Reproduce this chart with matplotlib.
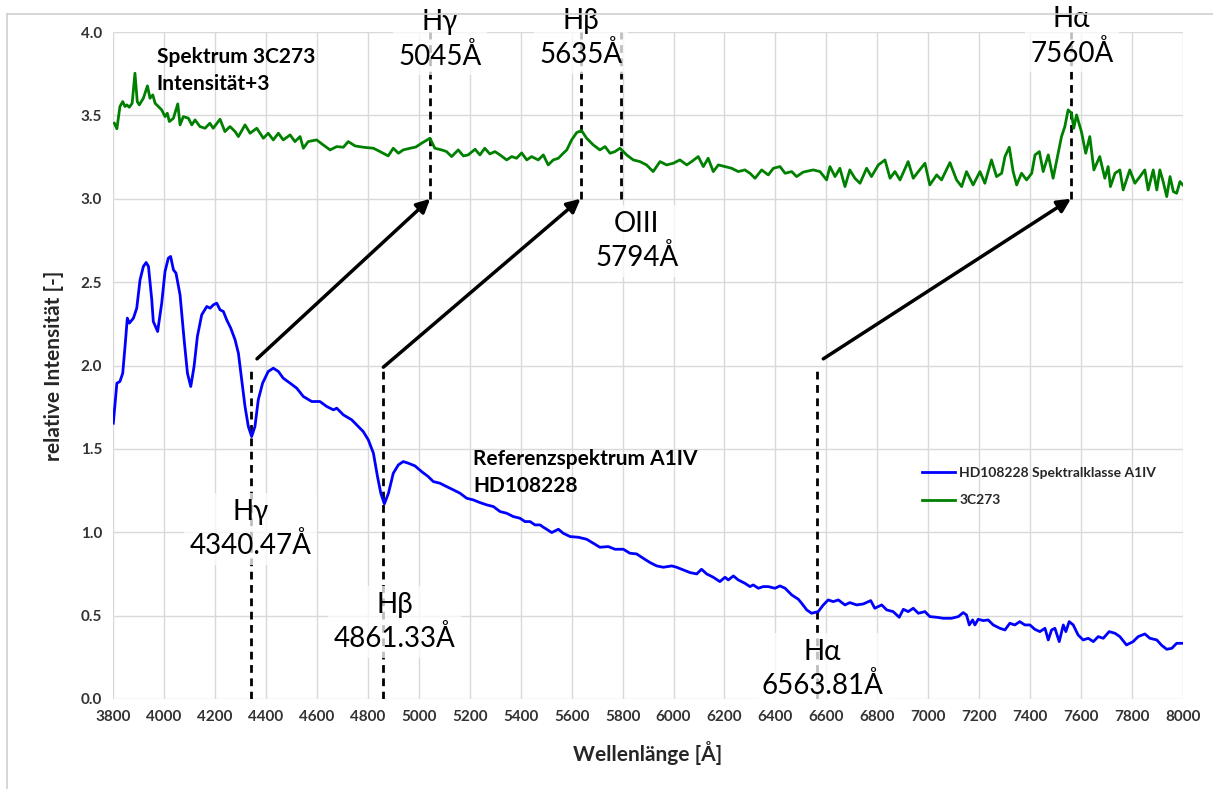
import matplotlib
matplotlib.use("Agg")
import matplotlib.pyplot as plt
from matplotlib.lines import Line2D

plt.rcParams['font.family'] = ['Lato', 'Noto Sans', 'DejaVu Sans']

# Referenzspektrum HD108228 (A1IV)
wl_ref = [3801, 3815, 3827, 3838, 3847, 3856, 3864, 3880, 3893, 3906, 3919, 3930, 3939,
          3952, 3958, 3975, 3991, 4004, 4017, 4026, 4037, 4047, 4063, 4079, 4092, 4105,
          4118, 4131, 4148, 4168, 4181, 4194, 4207, 4220, 4233, 4246, 4262, 4279, 4292,
          4305, 4318, 4331, 4344, 4357, 4370, 4387, 4409, 4429, 4449, 4468, 4495, 4521,
          4547, 4580, 4612, 4639, 4665, 4678, 4704, 4737, 4763, 4782, 4802, 4822, 4838,
          4851, 4865, 4881, 4900, 4920, 4939, 4959, 4985, 5011, 5037, 5057, 5083, 5109,
          5136, 5162, 5188, 5214, 5240, 5267, 5293, 5319, 5345, 5371, 5397, 5417, 5437,
          5456, 5476, 5489, 5502, 5522, 5548, 5567, 5594, 5626, 5659, 5685, 5711, 5744,
          5770, 5803, 5829, 5855, 5881, 5908, 5934, 5960, 5993, 6012, 6038, 6065, 6091,
          6110, 6130, 6156, 6182, 6202, 6215, 6235, 6254, 6280, 6300, 6313, 6333, 6352,
          6372, 6398, 6418, 6438, 6464, 6490, 6503, 6523, 6542, 6568, 6588, 6607, 6627,
          6647, 6673, 6692, 6719, 6745, 6774, 6790, 6817, 6837, 6862, 6886, 6902, 6921,
          6941, 6961, 6987, 7006, 7033, 7059, 7091, 7118, 7137, 7150, 7161, 7174, 7183,
          7196, 7216, 7235, 7255, 7281, 7301, 7320, 7340, 7359, 7379, 7399, 7418, 7438,
          7458, 7471, 7484, 7497, 7514, 7530, 7540, 7553, 7569, 7588, 7608, 7628, 7648,
          7667, 7687, 7710, 7733, 7752, 7778, 7804, 7824, 7850, 7870, 7897, 7916, 7936,
          7956, 7975, 7999]
int_ref = [1.654, 1.894, 1.904, 1.954, 2.114, 2.284, 2.254, 2.284, 2.344, 2.514, 2.594, 2.618, 2.594,
           2.394, 2.264, 2.204, 2.374, 2.564, 2.644, 2.654, 2.574, 2.554, 2.424, 2.154, 1.954, 1.874,
           1.994, 2.174, 2.304, 2.354, 2.344, 2.364, 2.374, 2.334, 2.324, 2.274, 2.224, 2.154, 2.074,
           1.914, 1.754, 1.634, 1.574, 1.634, 1.794, 1.894, 1.964, 1.984, 1.964, 1.924, 1.894, 1.864,
           1.814, 1.784, 1.784, 1.754, 1.734, 1.744, 1.704, 1.674, 1.634, 1.604, 1.554, 1.474, 1.334,
           1.234, 1.170, 1.234, 1.354, 1.404, 1.424, 1.414, 1.398, 1.364, 1.334, 1.304, 1.294, 1.274,
           1.254, 1.234, 1.204, 1.194, 1.178, 1.164, 1.154, 1.124, 1.114, 1.094, 1.084, 1.064, 1.064,
           1.044, 1.044, 1.030, 1.018, 0.998, 1.018, 0.994, 0.974, 0.970, 0.958, 0.934, 0.910, 0.914,
           0.898, 0.898, 0.874, 0.870, 0.844, 0.818, 0.798, 0.790, 0.798, 0.790, 0.774, 0.758, 0.750,
           0.778, 0.750, 0.730, 0.704, 0.730, 0.714, 0.738, 0.714, 0.694, 0.674, 0.684, 0.664, 0.674,
           0.674, 0.664, 0.678, 0.664, 0.624, 0.598, 0.574, 0.534, 0.514, 0.524, 0.564, 0.594, 0.584,
           0.594, 0.564, 0.578, 0.564, 0.570, 0.590, 0.544, 0.564, 0.534, 0.524, 0.490, 0.538, 0.524,
           0.544, 0.514, 0.524, 0.494, 0.490, 0.484, 0.484, 0.494, 0.518, 0.504, 0.444, 0.474, 0.444,
           0.478, 0.470, 0.474, 0.444, 0.424, 0.414, 0.454, 0.444, 0.464, 0.444, 0.444, 0.418, 0.404,
           0.424, 0.354, 0.414, 0.424, 0.344, 0.444, 0.404, 0.464, 0.444, 0.384, 0.354, 0.364, 0.344,
           0.374, 0.364, 0.404, 0.394, 0.374, 0.324, 0.344, 0.374, 0.390, 0.364, 0.354, 0.322, 0.298,
           0.304, 0.334, 0.334]

# Spektrum 3C273, Intensitaet +3
wl_qso = [3805, 3815, 3827, 3838, 3847, 3854, 3864, 3875, 3886, 3895, 3903, 3919, 3935,
          3945, 3956, 3965, 3978, 3991, 4004, 4013, 4021, 4037, 4054, 4063, 4076, 4096,
          4109, 4122, 4141, 4161, 4180, 4193, 4220, 4239, 4259, 4279, 4292, 4318, 4338,
          4364, 4390, 4409, 4429, 4449, 4468, 4495, 4514, 4534, 4547, 4566, 4599, 4625,
          4652, 4678, 4704, 4723, 4750, 4782, 4822, 4848, 4880, 4900, 4920, 4939, 4966,
          4988, 5011, 5044, 5063, 5090, 5109, 5129, 5155, 5175, 5194, 5221, 5240, 5259,
          5279, 5299, 5319, 5345, 5365, 5384, 5404, 5424, 5443, 5469, 5489, 5508, 5528,
          5548, 5567, 5581, 5600, 5620, 5639, 5659, 5685, 5711, 5731, 5751, 5770, 5790,
          5816, 5842, 5868, 5894, 5920, 5947, 5973, 5999, 6025, 6052, 6071, 6097, 6117,
          6136, 6156, 6176, 6202, 6228, 6254, 6280, 6300, 6320, 6346, 6372, 6392, 6418,
          6438, 6464, 6483, 6509, 6548, 6575, 6601, 6614, 6634, 6653, 6673, 6692, 6712,
          6732, 6758, 6777, 6804, 6830, 6850, 6869, 6889, 6921, 6941, 6961, 6987, 7006,
          7033, 7052, 7085, 7111, 7131, 7150, 7176, 7203, 7222, 7248, 7268, 7288, 7301,
          7318, 7333, 7347, 7366, 7386, 7406, 7419, 7436, 7451, 7471, 7490, 7510, 7523,
          7536, 7549, 7562, 7571, 7582, 7601, 7618, 7634, 7650, 7673, 7693, 7706, 7715,
          7733, 7752, 7765, 7791, 7811, 7831, 7850, 7863, 7883, 7897, 7909, 7922, 7936,
          7949, 7962, 7975, 7988, 7999]
int_qso = [3.453, 3.420, 3.553, 3.583, 3.553, 3.563, 3.549, 3.573, 3.753, 3.583, 3.563, 3.603, 3.677,
           3.603, 3.623, 3.573, 3.553, 3.533, 3.493, 3.513, 3.463, 3.483, 3.569, 3.443, 3.493, 3.483,
           3.443, 3.473, 3.433, 3.423, 3.453, 3.423, 3.477, 3.403, 3.433, 3.403, 3.373, 3.443, 3.393,
           3.423, 3.363, 3.393, 3.353, 3.393, 3.353, 3.383, 3.343, 3.373, 3.303, 3.343, 3.353, 3.323,
           3.293, 3.313, 3.309, 3.343, 3.317, 3.309, 3.303, 3.283, 3.257, 3.303, 3.273, 3.293, 3.303,
           3.310, 3.333, 3.363, 3.303, 3.293, 3.283, 3.253, 3.293, 3.257, 3.263, 3.297, 3.263, 3.303,
           3.269, 3.283, 3.263, 3.233, 3.253, 3.243, 3.275, 3.233, 3.253, 3.233, 3.263, 3.203, 3.233,
           3.243, 3.273, 3.293, 3.353, 3.397, 3.409, 3.363, 3.323, 3.293, 3.313, 3.273, 3.283, 3.303,
           3.263, 3.233, 3.223, 3.203, 3.163, 3.223, 3.203, 3.213, 3.233, 3.203, 3.223, 3.253, 3.193,
           3.243, 3.163, 3.203, 3.193, 3.183, 3.163, 3.173, 3.153, 3.123, 3.173, 3.143, 3.183, 3.193,
           3.153, 3.163, 3.133, 3.160, 3.173, 3.163, 3.113, 3.193, 3.133, 3.183, 3.073, 3.173, 3.123,
           3.093, 3.183, 3.133, 3.203, 3.233, 3.123, 3.163, 3.113, 3.223, 3.123, 3.163, 3.213, 3.083,
           3.143, 3.113, 3.217, 3.113, 3.073, 3.163, 3.083, 3.163, 3.093, 3.233, 3.133, 3.153, 3.253,
           3.309, 3.163, 3.083, 3.153, 3.113, 3.153, 3.263, 3.283, 3.163, 3.263, 3.123, 3.273, 3.373,
           3.433, 3.533, 3.513, 3.423, 3.503, 3.403, 3.273, 3.373, 3.173, 3.253, 3.123, 3.193, 3.073,
           3.153, 3.173, 3.053, 3.173, 3.093, 3.133, 3.173, 3.053, 3.173, 3.053, 3.173, 3.103, 3.013,
           3.133, 3.043, 3.033, 3.103, 3.083]

# Linien im Referenzspektrum und im 3C273-Spektrum (rotverschoben)
ref_lines = [4340.47, 4861.33, 6563.81]
ref_labels = ["Hγ\n4340.47Å", "Hβ\n4861.33Å", "Hα\n6563.81Å"]
ref_label_pos = [(4340, 1.02), (4905, 0.462), (6585, 0.18)]
qso_lines = [5045, 5635, 7560]
qso_labels = ["Hγ\n5045Å", "Hβ\n5635Å", "Hα\n7560Å"]
qso_label_pos = [(5083, 3.955), (5637, 3.965), (7563, 3.975)]
oiii_line = 5794
arrow_start = [(4365, 2.04), (4861, 1.99), (6588, 2.04)]

fig = plt.figure(figsize=(12.13, 7.89), dpi=100)
ax = fig.add_axes([0.0932, 0.1141, 0.8821, 0.8453])

# Rahmen des Diagramms
fig.add_artist(Line2D([0.0058, 0.0058], [0.0, 0.982], color='#d0d0d0', lw=1.2))
fig.add_artist(Line2D([0.0058, 1.0], [0.982, 0.982], color='#d0d0d0', lw=1.2))

ax.plot(wl_ref, int_ref, color='#0000ff', lw=2, label='HD108228 Spektralklasse A1IV', zorder=3)
ax.plot(wl_qso, int_qso, color='#008000', lw=2, label='3C273', zorder=3)

dash = (0, (2.8, 2.0))
for x in ref_lines:
    ax.plot([x, x], [0, 2.0], color='black', lw=2, linestyle=dash, zorder=2)
for x in qso_lines + [oiii_line]:
    ax.plot([x, x], [3.0, 4.0], color='black', lw=2, linestyle=dash, zorder=2, clip_on=False)

for (x0, y0), x1 in zip(arrow_start, qso_lines):
    ax.annotate('', xy=(x1, 3.0), xytext=(x0, y0),
                arrowprops=dict(arrowstyle='-|>', color='black', lw=2.5,
                                mutation_scale=20, shrinkA=0, shrinkB=0), zorder=4)

box = dict(facecolor='white', edgecolor='none', alpha=0.75, pad=4)
for (x, y), t in zip(ref_label_pos, ref_labels):
    ax.text(x, y, t, fontsize=20, ha='center', va='center', linespacing=1.35, bbox=box, zorder=5)
for (x, y), t in zip(qso_label_pos, qso_labels):
    ax.text(x, y, t, fontsize=20, ha='center', va='center', linespacing=1.35, bbox=box,
            zorder=5, clip_on=False)
ax.text(5856, 2.747, "OIII\n5794Å", fontsize=20, ha='center', va='center', linespacing=1.35,
        bbox=box, zorder=5)

ax.text(3972, 3.77, "Spektrum 3C273\nIntensität+3", fontsize=15, fontweight='bold',
        ha='left', va='center', linespacing=1.45)
ax.text(5213, 1.36, "Referenzspektrum A1IV\nHD108228", fontsize=15, fontweight='bold',
        ha='left', va='center', linespacing=1.45)

ax.set_xlim(3800, 8000)
ax.set_ylim(0, 4.0)
ax.set_xticks(range(3800, 8001, 200))
ax.set_yticks([0, 0.5, 1.0, 1.5, 2.0, 2.5, 3.0, 3.5, 4.0])
ax.set_yticklabels(['0.0', '0.5', '1.0', '1.5', '2.0', '2.5', '3.0', '3.5', '4.0'])
ax.grid(True, color='#d9d9d9', lw=1)
ax.set_axisbelow(True)
for s in ax.spines.values():
    s.set_visible(False)
ax.tick_params(length=0, labelsize=11, labelcolor='#333333', pad=8)
for lab in ax.get_xticklabels() + ax.get_yticklabels():
    lab.set_fontweight('bold')

ax.set_xlabel('Wellenlänge [Å]', fontsize=15, fontweight='bold', color='#262626', labelpad=12)
ax.set_ylabel('relative Intensität [-]', fontsize=15, fontweight='bold', color='#262626', labelpad=12)

leg = ax.legend(loc='upper left', bbox_to_anchor=(0.7495, 0.358), frameon=False, fontsize=10,
                handlelength=2.4, handletextpad=0.3, labelspacing=1.1, borderpad=0)
for t in leg.get_texts():
    t.set_fontweight('bold')
    t.set_color('#262626')

fig.savefig('out.png', dpi=100)
